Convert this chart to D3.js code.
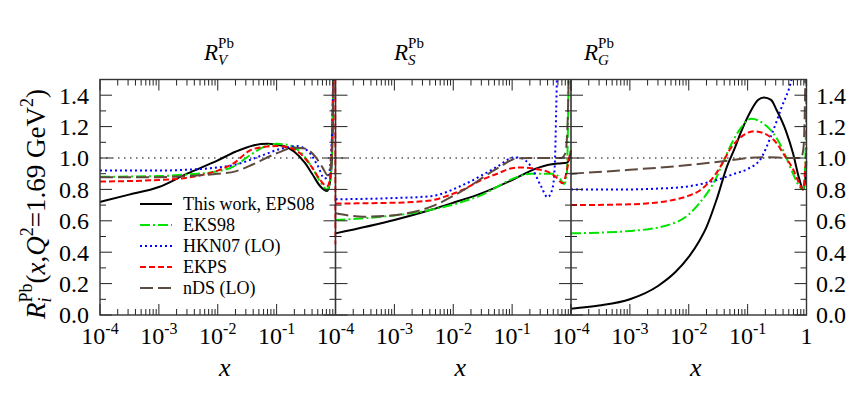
<!DOCTYPE html>
<html>
<head>
<meta charset="utf-8">
<script src="https://cdn.jsdelivr.net/npm/d3@7"></script>
<style>
  body { margin: 0; background: #fff; }
  svg { font-family: "Liberation Serif", "Times New Roman", serif; }
</style>
</head>
<body>
<div id="chart"></div>
<script>
// series names, in legend order
const seriesNames = ["This work, EPS08", "EKS98", "HKN07 (LO)", "EKPS", "nDS (LO)"];
const panelNames = ["V", "S", "G"];
const yTickValues = [0, 0.2, 0.4, 0.6, 0.8, 1.0, 1.2, 1.4];
const yTickLabels = ["0.0", "0.2", "0.4", "0.6", "0.8", "1.0", "1.2", "1.4"];
const xDecades = [1e-4, 1e-3, 1e-2, 1e-1, 1];
const xDecadeExp = ["-4", "-3", "-2", "-1", ""];

// R_V^Pb  [x, R]
const eps08V = [[1e-4,0.72],[3e-4,0.765],[1e-3,0.815],[3e-3,0.90],[0.01,0.985],[0.02,1.04],[0.04,1.08],[0.07,1.09],[0.12,1.08],[0.2,1.04],[0.3,0.97],[0.4,0.90],[0.55,0.82],[0.72,0.79],[0.8,0.84],[0.87,1.0],[0.935,1.7]];
const eks98V = [[1e-4,0.88],[1e-3,0.885],[3e-3,0.895],[0.01,0.915],[0.0185,0.945],[0.036,1.02],[0.06,1.07],[0.1,1.09],[0.15,1.085],[0.25,1.04],[0.4,0.94],[0.55,0.85],[0.72,0.80],[0.8,0.84],[0.87,1.05],[0.93,1.7]];
const hkn07V = [[1e-4,0.92],[1e-3,0.92],[3e-3,0.925],[0.01,0.94],[0.0185,0.955],[0.06,1.02],[0.12,1.06],[0.22,1.076],[0.35,1.04],[0.5,0.95],[0.65,0.87],[0.75,0.88],[0.85,1.05],[0.94,1.7]];
const ekpsV = [[1e-4,0.85],[1e-3,0.86],[3e-3,0.875],[0.01,0.92],[0.0185,0.966],[0.036,1.05],[0.06,1.07],[0.1,1.076],[0.15,1.07],[0.25,1.03],[0.4,0.94],[0.55,0.86],[0.72,0.82],[0.8,0.86],[0.87,1.1],[0.94,1.7],[0.99,1.7],[1,0.45]];
const ndsV = [[1e-4,0.877],[1e-3,0.878],[3e-3,0.885],[0.01,0.90],[0.02,0.915],[0.04,0.96],[0.1,1.03],[0.2,1.065],[0.3,1.06],[0.45,1.01],[0.6,0.94],[0.74,0.89],[0.82,0.93],[0.88,1.1],[0.94,1.7]];

// R_S^Pb
const eps08S = [[1e-4,0.52],[1e-3,0.605],[4.2e-3,0.67],[0.01,0.715],[0.03,0.775],[0.1,0.86],[0.21,0.92],[0.4,0.955],[0.6,0.965],[0.85,0.97],[0.95,1.0],[1,1.05]];
const eks98S = [[1e-4,0.605],[6e-4,0.626],[4.2e-3,0.67],[0.03,0.764],[0.124,0.88],[0.21,0.90],[0.5,0.90],[0.62,0.88],[0.77,0.834],[0.85,0.9],[0.92,1.7]];
const hkn07S = [[1e-4,0.737],[1e-3,0.745],[4.2e-3,0.757],[0.015,0.83],[0.056,0.945],[0.108,1.004],[0.14,1.0],[0.21,0.945],[0.31,0.82],[0.4,0.75],[0.48,0.80],[0.53,0.95],[0.56,1.3],[0.59,1.7]];
const ekpsS = [[1e-4,0.71],[1e-3,0.715],[4.2e-3,0.73],[8e-3,0.76],[0.015,0.80],[0.03,0.86],[0.056,0.90],[0.1,0.935],[0.15,0.94],[0.25,0.93],[0.4,0.913],[0.55,0.88],[0.72,0.84],[0.85,0.92],[0.93,1.0],[1,1.05]];
const ndsS = [[1e-4,0.648],[3e-4,0.626],[1e-3,0.636],[4.2e-3,0.69],[0.015,0.796],[0.056,0.934],[0.124,0.998],[0.2,1.0],[0.68,1.0],[0.8,1.03],[0.86,1.15],[0.9,1.4],[0.93,1.7]];

// R_G^Pb
const eps08G = [[1e-4,0.04],[3e-4,0.06],[1e-3,0.10],[3e-3,0.185],[6e-3,0.275],[0.01,0.37],[0.015,0.47],[0.02,0.56],[0.03,0.74],[0.045,0.95],[0.06,1.06],[0.08,1.18],[0.108,1.285],[0.15,1.37],[0.19,1.386],[0.25,1.37],[0.31,1.306],[0.45,1.17],[0.59,1.03],[0.75,0.87],[0.88,0.80],[0.95,0.86],[1,0.98]];
const eks98G = [[1e-4,0.52],[1e-3,0.535],[4.2e-3,0.57],[0.01,0.64],[0.015,0.71],[0.029,0.87],[0.04,0.99],[0.07,1.17],[0.115,1.25],[0.2,1.21],[0.27,1.16],[0.4,1.05],[0.59,0.9],[0.75,0.82],[0.88,0.80],[0.95,0.95],[0.98,1.25],[1,1.7]];
const hkn07G = [[1e-4,0.80],[1e-3,0.80],[3e-3,0.805],[0.01,0.82],[0.03,0.86],[0.06,0.90],[0.1,0.93],[0.17,1.0],[0.25,1.14],[0.375,1.32],[0.556,1.5],[0.7,1.7]];
const ekpsG = [[1e-4,0.70],[1e-3,0.705],[4.2e-3,0.725],[0.01,0.76],[0.015,0.79],[0.029,0.90],[0.056,1.08],[0.13,1.17],[0.27,1.12],[0.45,1.0],[0.59,0.93],[0.75,0.84],[0.87,0.80],[0.95,0.92],[1,1.07]];
const ndsG = [[1e-4,0.90],[1e-3,0.925],[0.01,0.955],[0.05,0.985],[0.1,1.0],[0.2,1.005],[0.5,1.0],[0.8,1.0],[0.88,1.05],[0.93,1.25],[0.97,1.7]];

const panelData = [
  [eps08V, eks98V, hkn07V, ekpsV, ndsV],
  [eps08S, eks98S, hkn07S, ekpsS, ndsS],
  [eps08G, eks98G, hkn07G, ekpsG, ndsG]
];

// styles
const colors = ["#000000", "#00e400", "#0000ff", "#ff0000", "#5f4a40"];
const dashes = [null, "10,3,2,3", "2,3", "6,3", "13,5"];
const widths = [2, 2, 2, 2, 2];

var width = 868, height = 396;
var plotLeft = 100, plotTop = 79.5, plotBottom = 315, panelW = 235.5;

var svg = d3.select("#chart")
            .append("svg")
            .attr("width", width)
            .attr("height", height);

var y = d3.scaleLinear().domain([0, 1.5]).range([plotBottom, plotTop]);

panelNames.forEach(function (p, i) {
    var x0 = plotLeft + i * panelW;
    var x = d3.scaleLog().domain([1e-4, 1]).range([x0, x0 + panelW]);

    // clip
    svg.append("defs").append("clipPath")
        .attr("id", "clip" + i)
        .append("rect")
        .attr("x", x0 - 1).attr("y", plotTop)
        .attr("width", panelW + 2).attr("height", plotBottom - plotTop);

    // reference line at 1
    svg.append("line")
        .attr("x1", x0).attr("x2", x0 + panelW)
        .attr("y1", y(1)).attr("y2", y(1))
        .attr("stroke", "#000").attr("stroke-width", 1)
        .attr("stroke-dasharray", "1.5,4.5");

    var line = d3.line()
        .x(function (d) { return x(d[0]); })
        .y(function (d) { return y(d[1]); })
        .curve(d3.curveMonotoneX);

    var g = svg.append("g").attr("clip-path", "url(#clip" + i + ")");
    panelData[i].forEach(function (s, k) {
        g.append("path")
            .attr("d", line(s))
            .attr("fill", "none")
            .attr("stroke", colors[k])
            .attr("stroke-width", widths[k])
            .attr("stroke-dasharray", dashes[k]);
    });

    // x ticks top & bottom
    x.ticks().forEach(function (t) {
        var lg = Math.log10(t);
        var major = Math.abs(lg - Math.round(lg)) < 1e-9;
        var len = major ? 11 : 6;
        var px = x(t);
        svg.append("line").attr("x1", px).attr("x2", px)
            .attr("y1", plotBottom).attr("y2", plotBottom - len)
            .attr("stroke", "#222").attr("stroke-width", 1);
        svg.append("line").attr("x1", px).attr("x2", px)
            .attr("y1", plotTop).attr("y2", plotTop + len)
            .attr("stroke", "#222").attr("stroke-width", 1);
    });

    // x tick labels
    xDecades.forEach(function (d, k) {
        if (k === 4 && i < 2) return;
        var t = svg.append("text")
            .attr("x", x(d)).attr("y", 344)
            .attr("text-anchor", "middle")
            .style("font-size", "24px");
        if (xDecadeExp[k] === "") {
            t.text("1");
        } else {
            t.append("tspan").text("10");
            t.append("tspan").attr("dy", -10).style("font-size", "16px").text(xDecadeExp[k]);
        }
    });

    // x axis label
    svg.append("text")
        .attr("x", x0 + panelW / 2 + 7).attr("y", 376)
        .attr("text-anchor", "middle")
        .style("font-size", "26px").style("font-style", "italic")
        .text("x");
});

// y ticks on the panel edges
var yAll = d3.range(0, 16).map(function (k) { return k / 10; });
d3.range(0, 4).forEach(function (b) {
    var bx = plotLeft + b * panelW;
    yAll.forEach(function (v, k) {
        var len = (k % 2 === 0) ? 12 : 6;
        var x1 = b > 0 ? bx - len : bx;
        var x2 = b < 3 ? bx + len : bx;
        svg.append("line")
            .attr("x1", x1).attr("x2", x2)
            .attr("y1", y(v)).attr("y2", y(v))
            .attr("stroke", "#222").attr("stroke-width", 1);
    });
});

// frames
svg.append("rect")
    .attr("x", plotLeft).attr("y", plotTop)
    .attr("width", panelW * 3).attr("height", plotBottom - plotTop)
    .attr("fill", "none").attr("stroke", "#333").attr("stroke-width", 1.4);
[1, 2].forEach(function (b) {
    svg.append("line")
        .attr("x1", plotLeft + b * panelW).attr("x2", plotLeft + b * panelW)
        .attr("y1", plotTop).attr("y2", plotBottom)
        .attr("stroke", "#333").attr("stroke-width", 1.6);
});

// y tick labels left and right
yTickValues.forEach(function (v, k) {
    svg.append("text")
        .attr("x", 89).attr("y", y(v)).attr("dy", "0.35em")
        .attr("text-anchor", "end")
        .style("font-size", "24px")
        .text(yTickLabels[k]);
    svg.append("text")
        .attr("x", 816).attr("y", y(v)).attr("dy", "0.35em")
        .attr("text-anchor", "start")
        .style("font-size", "24px")
        .text(yTickLabels[k]);
});

// panel titles  R_V^Pb etc.
var titleX = [204, 394, 584];
panelNames.forEach(function (p, i) {
    var t = svg.append("text")
        .attr("x", titleX[i]).attr("y", 60)
        .style("font-size", "23px");
    t.append("tspan").style("font-style", "italic").text("R");
    t.append("tspan").attr("dy", -12).style("font-size", "15px").text("Pb");
    t.append("tspan").attr("dx", -15.8).attr("dy", 17)
        .style("font-size", "15px").style("font-style", "italic").text(p);
});

// y axis title
var yt = svg.append("text")
    .attr("transform", "translate(45,204) rotate(-90)")
    .attr("text-anchor", "middle")
    .style("font-size", "27px");
yt.append("tspan").style("font-style", "italic").text("R");
yt.append("tspan").attr("dy", -13).style("font-size", "18px").text("Pb");
yt.append("tspan").attr("dx", -19).attr("dy", 19).style("font-size", "18px").style("font-style", "italic").text("i");
yt.append("tspan").attr("dx", 14).attr("dy", -6).text("(");
yt.append("tspan").style("font-style", "italic").text("x");
yt.append("tspan").text(",");
yt.append("tspan").style("font-style", "italic").text("Q");
yt.append("tspan").attr("dy", -12).style("font-size", "18px").text("2");
yt.append("tspan").attr("dy", 12).text("=1.69 GeV");
yt.append("tspan").attr("dy", -12).style("font-size", "18px").text("2");
yt.append("tspan").attr("dy", 12).text(")");

// legend
var legend = svg.append("g");
seriesNames.forEach(function (n, k) {
    var ly = 204 + k * 21;
    legend.append("line")
        .attr("x1", 140).attr("x2", 172)
        .attr("y1", ly).attr("y2", ly)
        .attr("stroke", colors[k]).attr("stroke-width", widths[k])
        .attr("stroke-dasharray", dashes[k]);
    legend.append("text")
        .attr("x", 183).attr("y", ly).attr("dy", "0.35em")
        .style("font-size", "18px")
        .text(n);
});
</script>
</body>
</html>
